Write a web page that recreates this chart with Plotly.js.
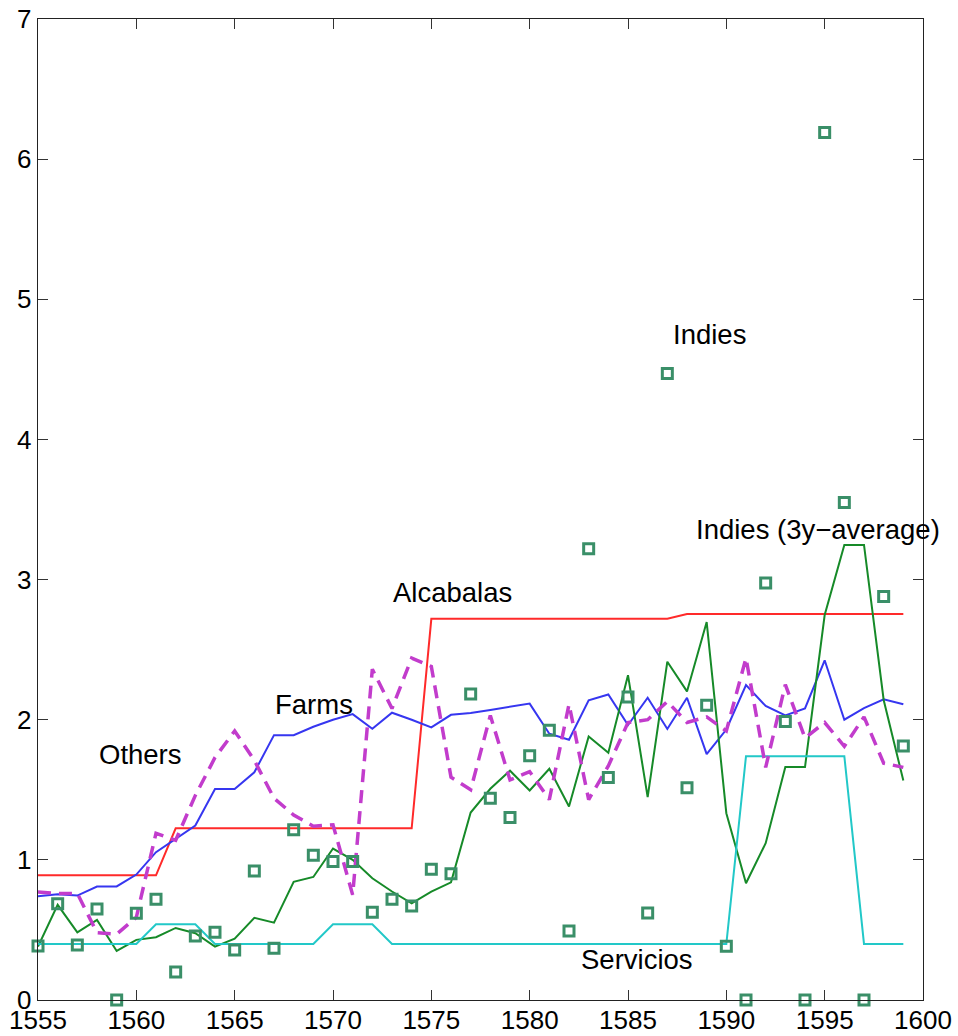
<!DOCTYPE html>
<html>
<head>
<meta charset="utf-8">
<script src="https://cdn.plot.ly/plotly-3.0.1.min.js"></script>
<style>html,body{margin:0;padding:0;background:#fff;}#chart{width:958px;height:1036px;}</style>
</head>
<body>
<div id="chart"></div>
<script>
const years = [1555,1556,1557,1558,1559,1560,1561,1562,1563,1564,1565,1566,1567,1568,1569,1570,1571,1572,1573,1574,1575,1576,1577,1578,1579,1580,1581,1582,1583,1584,1585,1586,1587,1588,1589,1590,1591,1592,1593,1594,1595,1596,1597,1598,1599];

const alcabalas = [0.89,0.89,0.89,0.89,0.89,0.89,0.89,
  1.225,1.225,1.225,1.225,1.225,1.225,1.225,1.225,1.225,1.225,1.225,1.225,1.225,
  2.72,2.72,2.72,2.72,2.72,2.72,2.72,2.72,2.72,2.72,2.72,2.72,2.72,
  2.755,2.755,2.755,2.755,2.755,2.755,2.755,2.755,2.755,2.755,2.755,2.755];

const farms = [0.74,0.755,0.745,0.81,0.81,0.895,1.055,1.15,1.245,1.505,
  1.505,1.625,1.89,1.89,1.95,2.0,2.04,1.935,2.05,2.0,
  1.945,2.035,2.048,2.07,2.09,2.115,1.9,1.857,2.138,2.18,
  1.962,2.157,1.934,2.157,1.755,1.93,2.247,2.098,2.03,2.08,
  2.424,2.0,2.083,2.146,2.11];

const indies3y = [0.381,0.679,0.483,0.571,0.35,0.429,0.448,0.514,0.476,0.381,
  0.438,0.586,0.552,0.843,0.878,1.081,1.0,0.869,0.774,0.69,
  0.774,0.84,1.338,1.507,1.636,1.495,1.65,1.381,1.881,1.764,
  2.318,1.447,2.414,2.202,2.697,1.333,0.833,1.119,1.662,1.662,
  2.747,3.247,3.247,2.141,1.566];

const servicios = [0.4,0.4,0.4,0.4,0.4,0.4,0.54,0.54,0.54,0.4,
  0.4,0.4,0.4,0.4,0.4,0.54,0.54,0.54,0.4,0.4,
  0.4,0.4,0.4,0.4,0.4,0.4,0.4,0.4,0.4,0.4,
  0.4,0.4,0.4,0.4,0.4,0.4,1.74,1.74,1.74,1.74,
  1.74,1.74,0.4,0.4,0.4];

const others = [0.77,0.76,0.76,0.48,0.47,0.59,1.19,1.14,1.46,1.73,
  1.92,1.71,1.44,1.32,1.24,1.25,0.75,2.36,2.08,2.44,
  2.38,1.59,1.50,2.03,1.57,1.63,1.43,2.11,1.43,1.67,
  1.98,2.00,2.13,1.98,2.02,1.92,2.44,1.66,2.25,1.87,
  1.98,1.81,2.02,1.69,1.66];

const indies = [0.386,0.686,0.393,0.65,0.0,0.619,0.719,0.2,0.457,0.483,
  0.357,0.921,0.369,1.214,1.033,0.988,0.988,0.626,0.719,0.671,
  0.933,0.9,2.183,1.44,1.302,1.743,1.924,0.493,3.22,1.588,
  2.162,0.621,4.47,1.515,2.104,0.384,0.0,2.975,1.987,0.0,
  6.19,3.55,0.0,2.879,1.813];

const xTicks = [1555,1560,1565,1570,1575,1580,1585,1590,1595,1600];
const yTicks = [0,1,2,3,4,5,6,7];

const labels = [
  {text:'Others', x:1558.0, y:1.75},
  {text:'Farms', x:1566.95, y:2.11},
  {text:'Alcabalas', x:1572.95, y:2.91},
  {text:'Indies', x:1587.2, y:4.75},
  {text:'Indies (3y\u2212average)', x:1588.35, y:3.36},
  {text:'Servicios', x:1582.5, y:0.29}
];

const traces = [
  {x:years, y:alcabalas, mode:'lines', line:{color:'#ff2a2a', width:2}},
  {x:years, y:farms, mode:'lines', line:{color:'#3636f0', width:2}},
  {x:years, y:indies3y, mode:'lines', line:{color:'#168a28', width:2}},
  {x:years, y:servicios, mode:'lines', line:{color:'#22c8c8', width:2}},
  {x:years, y:others, mode:'lines', line:{color:'#c23ccc', width:3.5, dash:'13px,8px'}},
  {x:years, y:indies, mode:'markers', cliponaxis:false,
   marker:{symbol:'square-open', size:10, color:'#3a8f68', line:{color:'#3a8f68', width:3}}}
];

const fam = 'Liberation Sans, Arial, Helvetica, sans-serif';
const tickFont = {family:fam, size:26, color:'#000'};

const layout = {
  width:958, height:1036,
  margin:{l:38, r:35, t:19, b:36, pad:0},
  paper_bgcolor:'#fff', plot_bgcolor:'#fff',
  showlegend:false,
  font:{family:fam, size:26, color:'#000'},
  xaxis:{range:[1555,1600], tickmode:'array', tickvals:xTicks,
    ticks:'inside', ticklen:10, tickcolor:'#333', tickwidth:1,
    showline:true, linecolor:'#222', linewidth:1.3, mirror:'allticks',
    showgrid:false, zeroline:false, automargin:false, tickfont:tickFont,
    ticklabelstandoff:-4},
  yaxis:{range:[0,7], tickmode:'array', tickvals:yTicks,
    ticks:'inside', ticklen:10, tickcolor:'#333', tickwidth:1,
    showline:true, linecolor:'#222', linewidth:1.3, mirror:'allticks',
    showgrid:false, zeroline:false, automargin:false, tickfont:tickFont},
  annotations: labels.map(l => ({text:l.text, x:l.x, y:l.y, xref:'x', yref:'y',
    xanchor:'left', yanchor:'middle', showarrow:false, font:{family:fam, size:27.5, color:'#000'}}))
};

Plotly.newPlot('chart', traces, layout, {displayModeBar:false, staticPlot:true});
</script>
</body>
</html>
